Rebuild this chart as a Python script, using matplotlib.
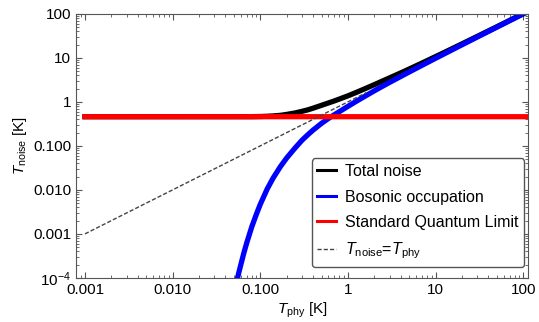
# T_noise vs T_phy: total noise, bosonic occupation, SQL, and T_noise = T_phy

import numpy as np
import matplotlib
matplotlib.use('Agg')
import matplotlib.pyplot as plt
import matplotlib.ticker as ticker

plt.rcParams['font.family'] = ['Liberation Sans', 'DejaVu Sans']
plt.rcParams['mathtext.fontset'] = 'custom'
plt.rcParams['mathtext.rm'] = 'Liberation Sans'
plt.rcParams['mathtext.it'] = 'Liberation Sans:italic'

# values
t_total = [0.001, 0.08, 0.1, 0.12, 0.14, 0.17, 0.2, 0.25, 0.3, 0.35, 0.4, 0.5, 0.6,
           0.7, 0.8, 1.0, 1.2, 1.5, 2.0, 2.5, 3.0, 4.0, 5.0, 7.0, 10.0, 15.0, 20.0,
           30.0, 50.0, 70.0, 120.0]
n_total = [0.46, 0.4615, 0.4647, 0.4705, 0.4785, 0.494, 0.518, 0.56, 0.61, 0.66,
           0.718, 0.835, 0.945, 1.05, 1.16, 1.37, 1.59, 1.92, 2.46, 3.0, 3.52, 4.55,
           5.58, 7.62, 10.68, 15.73, 20.78, 30.85, 50.93, 71.0, 121.1]

t_bos = [0.05, 0.055, 0.06, 0.065, 0.07, 0.08, 0.09, 0.1, 0.12, 0.14, 0.17, 0.2, 0.25,
         0.3, 0.35, 0.4, 0.5, 0.6, 0.7, 0.8, 1.0, 1.2, 1.5, 2.0, 2.5, 3.0, 4.0, 5.0,
         7.0, 10.0, 15.0, 20.0, 30.0, 50.0, 70.0, 120.0]
n_bos = [4.6e-5, 1.0e-4, 2.0e-4, 3.7e-4, 6.2e-4, 1.45e-3, 2.75e-3, 4.7e-3, 0.0105,
         0.0185, 0.034, 0.053, 0.09, 0.135, 0.18, 0.228, 0.325, 0.42, 0.51, 0.60,
         0.79, 0.985, 1.28, 1.78, 2.28, 2.78, 3.77, 4.77, 6.77, 9.77, 14.77, 19.77,
         29.77, 49.77, 69.77, 119.77]

t_sql = [0.001, 120.0]
n_sql = [0.46, 0.46]

t_eq = [0.001, 1.63]
n_eq = [0.001, 1.63]

xticks = [0.001, 0.01, 0.1, 1, 10, 100]
xlabels = ['0.001', '0.010', '0.100', '1', '10', '100']
yticks = [1e-4, 1e-3, 1e-2, 1e-1, 1, 10, 100]
ylabels = [r'10$^{-4}$', '0.001', '0.010', '0.100', '1', '10', '100']

fig, ax = plt.subplots(figsize=(5.39, 3.22), dpi=100)
fig.subplots_adjust(left=0.141, right=0.98, top=0.957, bottom=0.137)

ax.plot(t_total, n_total, color='k', lw=3.8, snap=False, label='Total noise')
ax.plot(t_bos, n_bos, color='#0000ff', lw=3.8, snap=False, label='Bosonic occupation')
ax.plot(t_sql, n_sql, color='#ff0000', lw=3.8, snap=False, label='Standard Quantum Limit')
ax.plot(t_eq, n_eq, color='#444444', lw=1.0, ls=(0, (3, 1.5)), snap=False,
        label=r'$T_{\rm noise}$=$T_{\rm phy}$')

ax.set_xscale('log')
ax.set_yscale('log')
ax.set_xlim(7.9e-4, 114)
ax.set_ylim(1e-4, 100)

ax.set_xticks(xticks)
ax.set_xticklabels(xlabels)
ax.set_yticks(yticks)
ax.set_yticklabels(ylabels)
ax.xaxis.set_minor_locator(ticker.LogLocator(base=10, subs=np.arange(2, 10), numticks=20))
ax.yaxis.set_minor_locator(ticker.LogLocator(base=10, subs=np.arange(2, 10), numticks=20))
ax.xaxis.set_minor_formatter(ticker.NullFormatter())
ax.yaxis.set_minor_formatter(ticker.NullFormatter())
ax.tick_params(which='both', direction='in', top=True, right=True, labelsize=11,
               color='#555555')
ax.tick_params(which='major', length=4.5, width=0.8)
ax.tick_params(which='minor', length=2.5, width=0.6)
for s in ax.spines.values():
    s.set_color('#555555')

ax.set_xlabel(r'$T_{\rm phy}$ [K]', fontsize=11, labelpad=3)
ax.set_ylabel(r'$T_{\rm noise}$ [K]', fontsize=11, labelpad=3)

leg = ax.legend(loc='lower right', bbox_to_anchor=(0.991, 0.042), borderaxespad=0,
                fontsize=11.5, handlelength=1.2, handletextpad=0.55, labelspacing=0.66,
                borderpad=0.35, fancybox=True, edgecolor='#555555', framealpha=1)
for l in leg.get_lines()[:3]:
    l.set_linewidth(2.2)

plt.savefig('out.png', dpi=100)
